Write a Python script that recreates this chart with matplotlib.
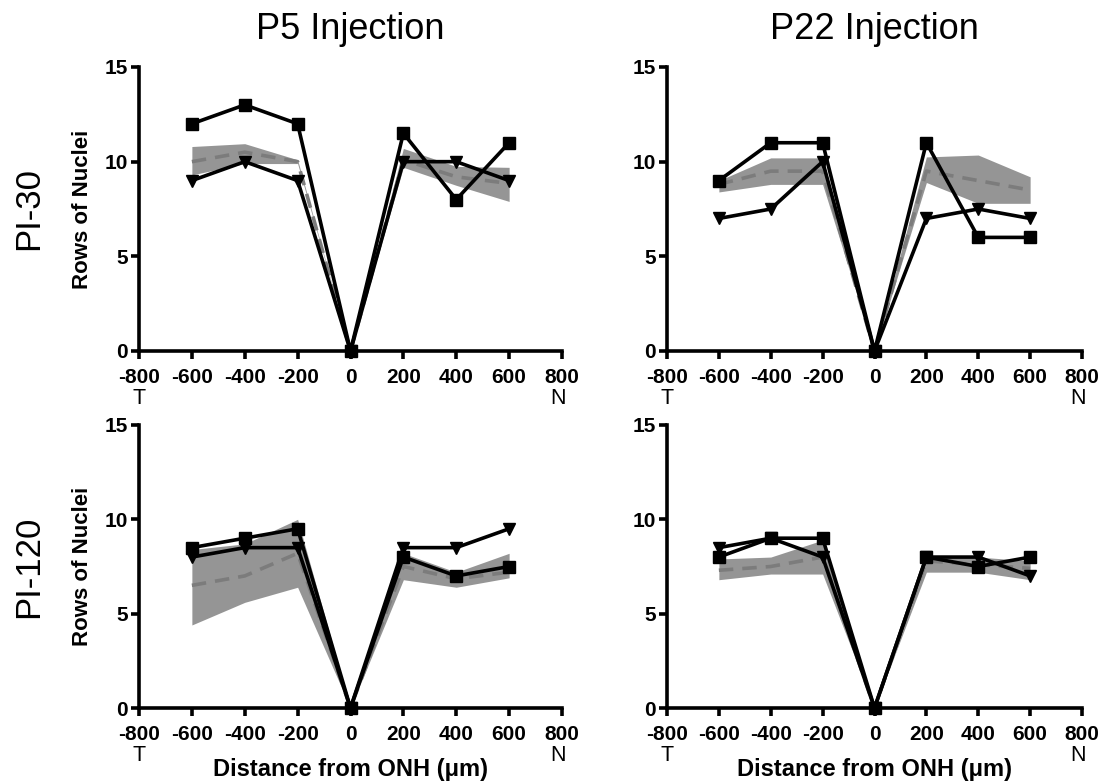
import matplotlib
matplotlib.use("Agg")
import matplotlib.pyplot as plt

plt.rcParams['font.family'] = ['Liberation Sans', 'DejaVu Sans']

# distance from optic nerve head (um)
distance = [-600, -400, -200, 0, 200, 400, 600]

# P5 injection, PI-30
p5_pi30_sq = [12, 13, 12, 0, 11.5, 8, 11]
p5_pi30_tri = [9, 10, 9, 0, 10, 10, 9]
p5_pi30_mean = [10, 10.5, 10, 0, 10.1, 9.2, 8.85]
p5_pi30_lo = [9.3, 9.9, 9.9, 0, 9.7, 8.75, 7.9]
p5_pi30_hi = [10.8, 10.95, 10.1, 0, 10.7, 9.75, 9.7]

# P22 injection, PI-30
p22_pi30_sq = [9, 11, 11, 0, 11, 6, 6]
p22_pi30_tri = [7, 7.5, 10, 0, 7, 7.5, 7]
p22_pi30_mean = [8.8, 9.5, 9.5, 0, 9.5, 9.0, 8.5]
p22_pi30_lo = [8.4, 8.8, 8.8, 0, 8.9, 7.8, 7.8]
p22_pi30_hi = [9.0, 10.2, 10.2, 0, 10.25, 10.35, 9.2]

# P5 injection, PI-120
p5_pi120_sq = [8.5, 9.0, 9.5, 0, 8.0, 7.0, 7.5]
p5_pi120_tri = [8.0, 8.5, 8.5, 0, 8.5, 8.5, 9.5]
p5_pi120_mean = [6.5, 7.0, 8.2, 0, 7.5, 6.85, 7.2]
p5_pi120_lo = [4.4, 5.6, 6.4, 0, 6.8, 6.4, 6.9]
p5_pi120_hi = [8.4, 8.7, 10.0, 0, 8.2, 7.2, 8.2]

# P22 injection, PI-120
p22_pi120_sq = [8, 9, 9, 0, 8, 7.5, 8]
p22_pi120_tri = [8.5, 9, 8, 0, 8, 8, 7]
p22_pi120_mean = [7.3, 7.5, 8.0, 0, 7.8, 7.6, 7.4]
p22_pi120_lo = [6.8, 7.1, 7.1, 0, 7.2, 7.2, 6.8]
p22_pi120_hi = [7.9, 8.0, 8.9, 0, 8.1, 8.0, 7.8]

col_titles = ['P5 Injection', 'P22 Injection']
row_titles = ['PI-30', 'PI-120']
xticks = [-800, -600, -400, -200, 0, 200, 400, 600, 800]
yticks = [0, 5, 10, 15]

panels = [
    [(p5_pi30_sq, p5_pi30_tri, p5_pi30_mean, p5_pi30_lo, p5_pi30_hi),
     (p22_pi30_sq, p22_pi30_tri, p22_pi30_mean, p22_pi30_lo, p22_pi30_hi)],
    [(p5_pi120_sq, p5_pi120_tri, p5_pi120_mean, p5_pi120_lo, p5_pi120_hi),
     (p22_pi120_sq, p22_pi120_tri, p22_pi120_mean, p22_pi120_lo, p22_pi120_hi)],
]

W, H = 1114, 782
fig = plt.figure(figsize=(W / 100, H / 100), dpi=100)

# axes boxes in pixels: (left, right) and (top, bottom)
col_px = [(139, 562), (667, 1082)]
row_px = [(67, 351), (425, 708)]

for r in range(2):
    for c in range(2):
        l, rr = col_px[c]
        t, b = row_px[r]
        ax = fig.add_axes([l / W, 1 - b / H, (rr - l) / W, (b - t) / H])
        sq, tri, mean, lo, hi = panels[r][c]

        ax.fill_between(distance, lo, hi, color='#959595', lw=0, zorder=1)
        ax.plot(distance, mean, ls=(0, (4, 2.5)), color='#7c7c7c', lw=2.6, zorder=2)
        ax.plot(distance, sq, color='black', lw=2.6, marker='s', ms=8,
                zorder=3, clip_on=False)
        ax.plot(distance, tri, color='black', lw=2.6, marker='v', ms=9,
                zorder=4, clip_on=False)

        ax.set_xlim(-800, 800)
        ax.set_ylim(0, 15)
        ax.set_xticks(xticks)
        ax.set_yticks(yticks)
        ax.set_xticklabels([str(v) for v in xticks], fontsize=15, fontweight='bold')
        ax.set_yticklabels([str(v) for v in yticks], fontsize=15, fontweight='bold')
        for s in ['top', 'right']:
            ax.spines[s].set_visible(False)
        for s in ['left', 'bottom']:
            ax.spines[s].set_linewidth(2.6)
        ax.tick_params(axis='x', length=6, width=2.6, pad=6)
        ax.tick_params(axis='y', length=6, width=2.6, pad=2)

        # temporal / nasal markers under the axis ends
        ax.annotate('T', xy=(-800, 0), xycoords=('data', 'axes fraction'),
                    xytext=(0, -34), textcoords='offset points',
                    ha='center', va='center', fontsize=15.5)
        ax.annotate('N', xy=(800, 0), xycoords=('data', 'axes fraction'),
                    xytext=(-3, -34), textcoords='offset points',
                    ha='center', va='center', fontsize=15.5)

        if c == 0:
            ax.set_ylabel('Rows of Nuclei', fontsize=16, fontweight='bold',
                          labelpad=8)
        if r == 1:
            ax.set_xlabel('Distance from ONH (\u03bcm)', fontsize=17,
                          fontweight='bold', labelpad=10)
        if r == 0:
            ax.set_title(col_titles[c], fontsize=26, pad=20)

for r in range(2):
    t, b = row_px[r]
    fig.text(29 / W, 1 - (t + b) / 2 / H, row_titles[r], rotation=90,
             fontsize=25, ha='center', va='center')

fig.savefig('out.png', dpi=100)
